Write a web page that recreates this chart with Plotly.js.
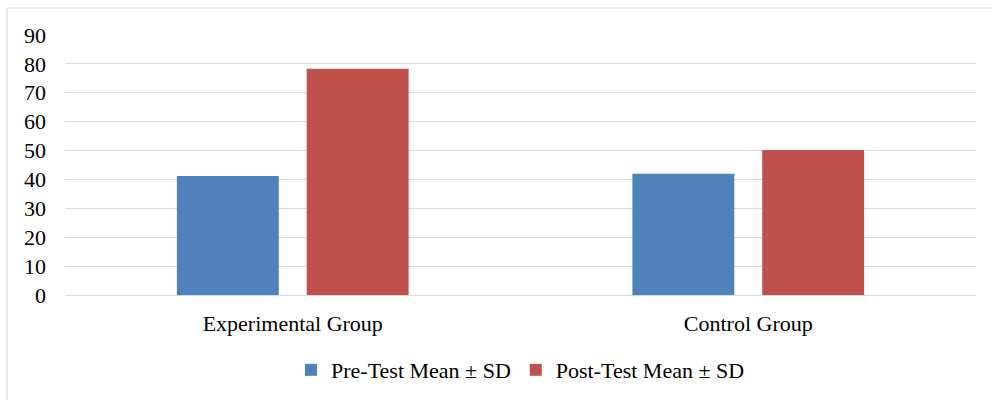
<!DOCTYPE html>
<html><head><meta charset="utf-8">
<script src="https://cdn.plot.ly/plotly-3.0.1.min.js"></script>
<style>html,body{margin:0;padding:0;background:#fff}#c{width:992px;height:400px}</style>
</head><body><div id="c"></div>
<script>
const categories = ["Experimental Group", "Control Group"];
const preTest = [41.2, 42.0];
const postTest = [78.3, 50.2];
const seriesNames = ["Pre-Test Mean \u00b1 SD", "Post-Test Mean \u00b1 SD"];
const yTicks = [0,10,20,30,40,50,60,70,80,90];

const L=65, R=16, T=35, B=105, W=992, H=400;
const pw = W-L-R, ph = H-T-B;
const font = {family: "Liberation Serif, Times New Roman, serif", size: 22, color: "#000"};

const data = [
  {type:"bar", x:categories, y:preTest, name:seriesNames[0], marker:{color:"#4f81bd"}},
  {type:"bar", x:categories, y:postTest, name:seriesNames[1], marker:{color:"#c0504d"}}
];
const layout = {
  width:W, height:H,
  margin:{l:L, r:R, t:T, b:B, autoexpand:false},
  paper_bgcolor:"#fff", plot_bgcolor:"#fff",
  font: font,
  barmode:"group", bargap:0.43, bargroupgap:0.215,
  showlegend:true,
  legend:{orientation:"h", x:0.5, xanchor:"center", y:-(370-295)/ph, yanchor:"middle", font:font, itemwidth:30, traceorder:"normal", tracegroupgap:0},
  xaxis:{showgrid:false, showline:true, linecolor:"#d9d9d9", linewidth:1, ticks:"", tickfont:font, ticklabelstandoff:9, automargin:false},
  yaxis:{range:[0,90], tickvals:yTicks, showgrid:true, gridcolor:"#d9d9d9", gridwidth:1, zeroline:false, showline:false, ticks:"", tickfont:font, ticklabelstandoff:18, automargin:false},
  shapes:[{type:"rect", xref:"paper", yref:"paper",
    x0:(7-L)/pw, x1:(W+5-L)/pw, y0:-(B+10)/ph, y1:(H-B-8)/ph,
    line:{color:"#d9d9d9", width:1}, fillcolor:"rgba(0,0,0,0)", layer:"below"}]
};
Plotly.newPlot("c", data, layout, {displayModeBar:false, staticPlot:true});
</script></body></html>
